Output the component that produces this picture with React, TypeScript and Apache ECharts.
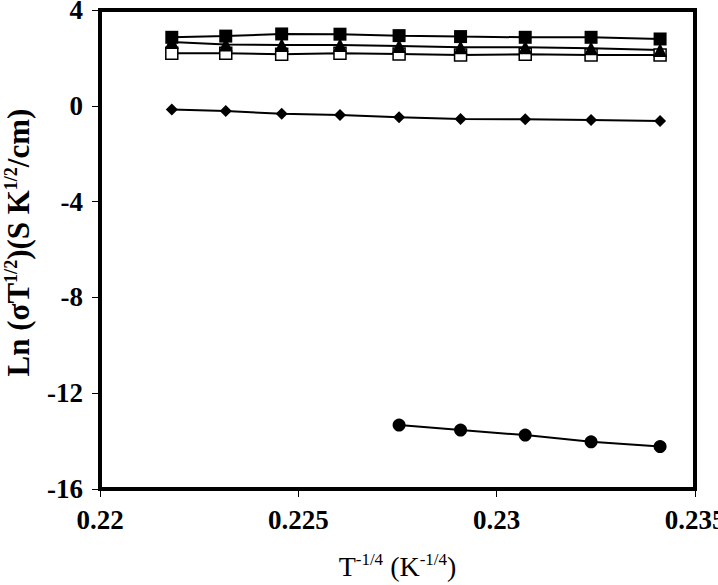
import React, { useEffect, useRef } from "react";
import * as echarts from "echarts";

const xValues = [0.22181, 0.22317, 0.22458, 0.22605, 0.22754, 0.22909, 0.23072, 0.23238, 0.23412];
const filledSquare = [2.86, 2.91, 3.0, 2.99, 2.93, 2.89, 2.86, 2.86, 2.79];
const triangle = [2.66, 2.56, 2.54, 2.54, 2.5, 2.44, 2.44, 2.4, 2.33];
const openSquare = [2.19, 2.19, 2.15, 2.19, 2.16, 2.12, 2.15, 2.12, 2.12];
const diamond = [-0.15, -0.22, -0.33, -0.38, -0.48, -0.55, -0.56, -0.59, -0.63];
const circleX = [0.22754, 0.22909, 0.23072, 0.23238, 0.23412];
const circle = [-13.33, -13.54, -13.75, -14.03, -14.23];

const FONT = "'Liberation Serif', 'Times New Roman', serif";

function pairs(xs: number[], ys: number[]) {
  return ys.map((y, i) => [xs[i], y]);
}

export default function App() {
  const ref = useRef<HTMLDivElement>(null);
  useEffect(() => {
    if (!ref.current) return;
    const chart = echarts.init(ref.current, undefined, { renderer: "svg" });
    const line = { color: "#000", width: 2 };
    const mk = (name: string, data: number[][], symbol: string, size: number, fill = "#000") => ({
      name,
      type: "line",
      data,
      symbol,
      symbolSize: size,
      showAllSymbol: true,
      lineStyle: line,
      itemStyle: { color: fill, borderColor: "#000", borderWidth: fill === "#000" ? 0 : 1.5 },
    });
    chart.setOption({
      animation: false,
      backgroundColor: "#fff",
      grid: {
        left: 100,
        right: 23,
        top: 10,
        bottom: 96,
        show: true,
        borderColor: "#000",
        borderWidth: 4,
        containLabel: false,
        outerBoundsMode: "none",
      },
      xAxis: {
        type: "value",
        min: 0.22,
        max: 0.235,
        interval: 0.005,
        axisLine: { show: true, onZero: false, lineStyle: { color: "#000", width: 4 } },
        axisTick: { show: true, length: 8, lineStyle: { color: "#000", width: 1 } },
        splitLine: { show: false },
        axisLabel: {
          margin: 17,
          color: "#000",
          fontFamily: FONT,
          fontWeight: "bold",
          fontSize: 27,
          formatter: (v: number) => String(parseFloat(v.toFixed(3))),
        },
        name: "{a|T}{s|-1/4}{a| (K}{s|-1/4}{a|)}",
        nameLocation: "middle",
        nameGap: 62,
        nameTextStyle: {
          rich: {
            a: { fontFamily: FONT, fontSize: 28, color: "#000", lineHeight: 30 },
            s: { fontFamily: FONT, fontSize: 17, color: "#000", lineHeight: 17, verticalAlign: "top" },
          },
        },
      },
      yAxis: {
        type: "value",
        min: -16,
        max: 4,
        interval: 4,
        axisLine: { show: true, onZero: false, lineStyle: { color: "#000", width: 4 } },
        axisTick: { show: true, length: 8, lineStyle: { color: "#000", width: 1 } },
        splitLine: { show: false },
        axisLabel: {
          margin: 17,
          color: "#000",
          fontFamily: FONT,
          fontWeight: "bold",
          fontSize: 27,
        },
        name: "{b|Ln (σT}{s|1/2}{b|)(S K}{s|1/2}{b|/cm)}",
        nameLocation: "middle",
        nameGap: 66,
        nameTextStyle: {
          padding: [0, 0, 0, 14],
          rich: {
            b: { fontFamily: FONT, fontWeight: "bold", fontSize: 31, color: "#000", lineHeight: 32 },
            s: { fontFamily: FONT, fontWeight: "bold", fontSize: 18, color: "#000", lineHeight: 18, verticalAlign: "top" },
          },
        },
      },
      series: [
        mk("open square", pairs(xValues, openSquare), "rect", 12, "#fff"),
        mk("triangle", pairs(xValues, triangle), "triangle", 14),
        mk("filled square", pairs(xValues, filledSquare), "rect", 13),
        mk("diamond", pairs(xValues, diamond), "diamond", 12),
        mk("circle", pairs(circleX, circle), "circle", 13),
      ],
    });
    return () => chart.dispose();
  }, []);
  return (
    <div
      ref={ref}
      style={{ position: "absolute", left: 0, top: 0, width: 718, height: 585 }}
    />
  );
}
